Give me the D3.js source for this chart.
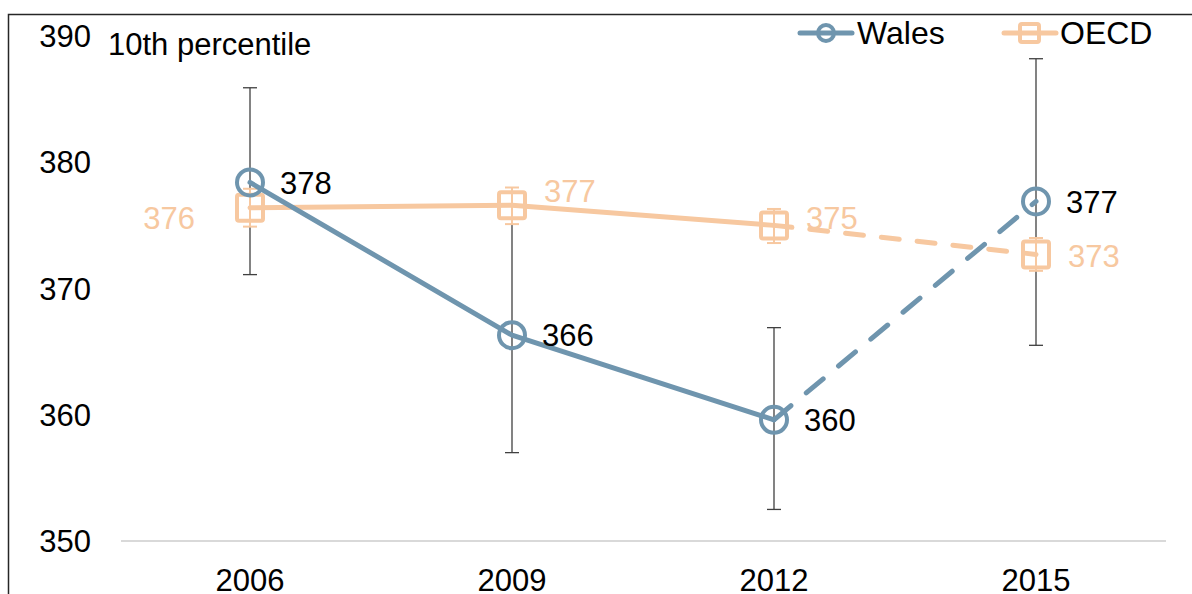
<!DOCTYPE html>
<html>
<head>
<meta charset="utf-8">
<script src="https://cdn.jsdelivr.net/npm/d3@7"></script>
<style>
  body { margin: 0; background: #fff; }
  svg { display: block; font-family: "Liberation Sans", Arial, sans-serif; }
</style>
</head>
<body>
<div id="chart"></div>
<script>
const years = ["2006", "2009", "2012", "2015"];
const yTicks = [350, 360, 370, 380, 390];

const walesValues = [378.4, 366.3, 359.6, 376.9];
const walesLow = [371.1, 357.0, 352.5, 365.5];
const walesHigh = [385.9, 375.6, 366.9, 388.2];

const oecdValues = [376.4, 376.6, 375.0, 372.7];
const oecdLow = [374.9, 375.1, 373.6, 371.4];
const oecdHigh = [377.9, 378.0, 376.3, 374.0];

const titleText = "10th percentile";

const width = 1192;
const height = 594;
const walesColor = "#6f95ae";
const oecdColor = "#f7c8a0";
const fontSize = 31;

const svg = d3.select("#chart")
    .append("svg")
    .attr("width", width)
    .attr("height", height)
    .attr("viewBox", [0, 0, width, height]);

// outer frame (only top and left edges are visible in the crop)
svg.append("path")
    .attr("d", "M8.5,600 V14.5 H1200")
    .attr("fill", "none")
    .attr("stroke", "#262626")
    .attr("stroke-width", 1.5);

const x = d3.scaleBand().domain(years).range([119, 1167]);
const y = d3.scaleLinear().domain([350, 390]).range([541, 36]);
const cx = (i) => x(years[i]) + x.bandwidth() / 2;

// baseline
svg.append("line")
    .attr("x1", 121).attr("x2", 1166)
    .attr("y1", y(350)).attr("y2", y(350))
    .attr("stroke", "#d9d9d9")
    .attr("stroke-width", 2);

// y tick labels
svg.append("g")
    .selectAll("text")
    .data(yTicks)
    .enter()
    .append("text")
    .attr("x", 91)
    .attr("y", d => y(d))
    .attr("dy", "0.36em")
    .attr("text-anchor", "end")
    .attr("font-size", fontSize)
    .attr("fill", "#000")
    .text(d => d);

// x tick labels (bottom is clipped by the frame, as in the source)
svg.append("g")
    .selectAll("text")
    .data(years)
    .enter()
    .append("text")
    .attr("x", d => x(d) + x.bandwidth() / 2)
    .attr("y", 591)
    .attr("text-anchor", "middle")
    .attr("font-size", fontSize)
    .attr("fill", "#000")
    .text(d => d);

svg.append("text")
    .attr("x", 108)
    .attr("y", 55)
    .attr("font-size", fontSize)
    .attr("fill", "#000")
    .text(titleText);

// Wales error bars
const werr = svg.append("g").attr("stroke", "#404040").attr("stroke-width", 1.3);
years.forEach((yr, i) => {
    const xx = cx(i);
    werr.append("line").attr("x1", xx).attr("x2", xx).attr("y1", y(walesLow[i])).attr("y2", y(walesHigh[i]));
    werr.append("line").attr("x1", xx - 7).attr("x2", xx + 7).attr("y1", y(walesLow[i])).attr("y2", y(walesLow[i]));
    werr.append("line").attr("x1", xx - 7).attr("x2", xx + 7).attr("y1", y(walesHigh[i])).attr("y2", y(walesHigh[i]));
});

function drawSeries(values, color, dashStroke) {
    const line = d3.line().x((d, i) => cx(i)).y(d => y(d));
    const g = svg.append("g");
    g.append("path")
        .datum(values.slice(0, 3))
        .attr("d", line)
        .attr("fill", "none")
        .attr("stroke", color)
        .attr("stroke-width", 5)
        .attr("stroke-linejoin", "round")
        .attr("stroke-linecap", "round");
    // last segment dashed
    const seg = d3.line().x(d => cx(d[0])).y(d => y(d[1]));
    g.append("path")
        .datum([[2, values[2]], [3, values[3]]])
        .attr("d", seg)
        .attr("fill", "none")
        .attr("stroke", color)
        .attr("stroke-width", 5)
        .attr("stroke-dasharray", dashStroke)
        .attr("stroke-linecap", "round");
    return g;
}

// OECD series
drawSeries(oecdValues, oecdColor, "18,18");

const oerr = svg.append("g").attr("stroke", oecdColor).attr("stroke-width", 2);
years.forEach((yr, i) => {
    const xx = cx(i);
    oerr.append("line").attr("x1", xx).attr("x2", xx).attr("y1", y(oecdLow[i])).attr("y2", y(oecdHigh[i]));
    oerr.append("line").attr("x1", xx - 7).attr("x2", xx + 7).attr("y1", y(oecdLow[i])).attr("y2", y(oecdLow[i]));
    oerr.append("line").attr("x1", xx - 7).attr("x2", xx + 7).attr("y1", y(oecdHigh[i])).attr("y2", y(oecdHigh[i]));
});

svg.append("g")
    .selectAll("rect")
    .data(oecdValues)
    .enter()
    .append("rect")
    .attr("x", (d, i) => cx(i) - 13)
    .attr("y", d => y(d) - 13)
    .attr("width", 26)
    .attr("height", 26)
    .attr("rx", 2)
    .attr("fill", "none")
    .attr("stroke", oecdColor)
    .attr("stroke-width", 4);

// Wales series
drawSeries(walesValues, walesColor, "22,20");

svg.append("g")
    .selectAll("circle")
    .data(walesValues)
    .enter()
    .append("circle")
    .attr("cx", (d, i) => cx(i))
    .attr("cy", d => y(d))
    .attr("r", 13)
    .attr("fill", "none")
    .attr("stroke", walesColor)
    .attr("stroke-width", 4);

// data labels
const fmt = d3.format(".0f");
svg.append("g")
    .selectAll("text")
    .data(walesValues)
    .enter()
    .append("text")
    .attr("x", (d, i) => cx(i) + 30)
    .attr("y", d => y(d))
    .attr("dy", "0.36em")
    .attr("font-size", fontSize)
    .attr("fill", "#000")
    .text(d => fmt(d));

// OECD labels: first on the left, second raised, others on the right
svg.append("g")
    .selectAll("text")
    .data(oecdValues)
    .enter()
    .append("text")
    .attr("x", (d, i) => i === 0 ? cx(i) - 55 : cx(i) + 32)
    .attr("y", (d, i) => y(d) + (i === 0 ? 10 : i === 1 ? -14 : i === 2 ? -8 : 1))
    .attr("dy", "0.36em")
    .attr("text-anchor", (d, i) => i === 0 ? "end" : "start")
    .attr("font-size", fontSize)
    .attr("fill", oecdColor)
    .text(d => fmt(d));

// legend
const legend = svg.append("g");
legend.append("line").attr("x1", 800).attr("x2", 852).attr("y1", 33).attr("y2", 33)
    .attr("stroke", walesColor).attr("stroke-width", 5).attr("stroke-linecap", "round");
legend.append("circle").attr("cx", 826).attr("cy", 33).attr("r", 8)
    .attr("fill", "none").attr("stroke", walesColor).attr("stroke-width", 4);
legend.append("text").attr("x", 857).attr("y", 44).attr("font-size", 32).text("Wales");

legend.append("line").attr("x1", 1004).attr("x2", 1056).attr("y1", 33).attr("y2", 33)
    .attr("stroke", oecdColor).attr("stroke-width", 5).attr("stroke-linecap", "round");
legend.append("rect").attr("x", 1020).attr("y", 24).attr("width", 19).attr("height", 18).attr("rx", 2)
    .attr("fill", "none").attr("stroke", oecdColor).attr("stroke-width", 4);
legend.append("text").attr("x", 1060).attr("y", 44).attr("font-size", 32).text("OECD");
</script>
</body>
</html>
